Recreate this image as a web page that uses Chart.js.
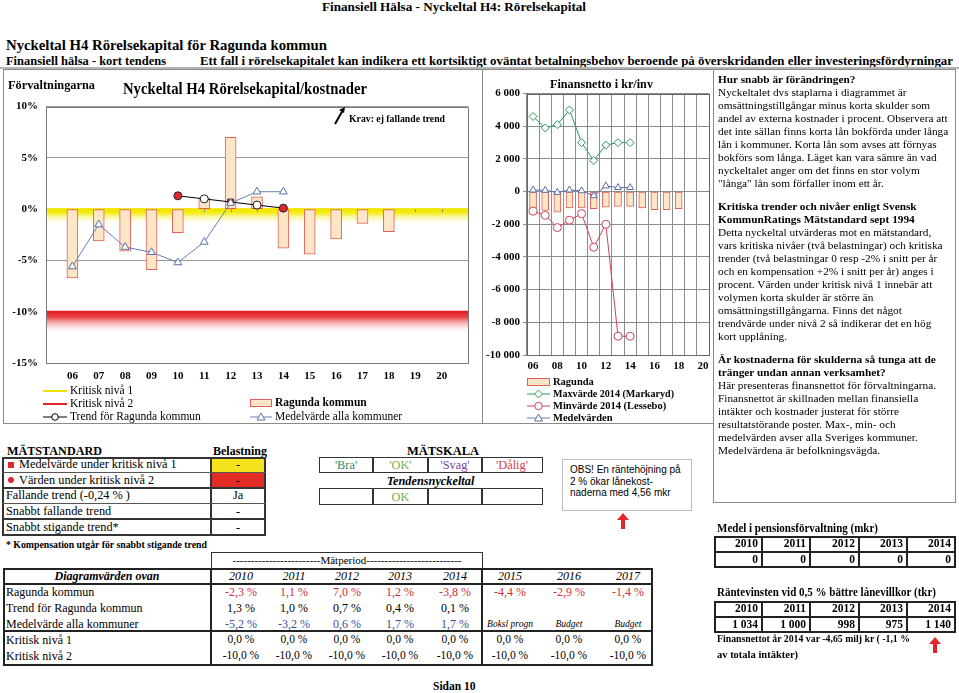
<!DOCTYPE html>
<html lang="sv"><head><meta charset="utf-8"><title>Nyckeltal H4</title>
<script src="https://cdn.jsdelivr.net/npm/chart.js@4.4.1/dist/chart.umd.min.js"></script>
<style>
html,body{margin:0;padding:0;background:#fff;}
#page{position:relative;width:959px;height:693px;overflow:hidden;font-family:"Liberation Serif","Times New Roman",serif;color:#000;}
.t{position:absolute;white-space:nowrap;}
.r{position:absolute;box-sizing:border-box;}
canvas{position:absolute;}
svg{position:absolute;overflow:visible;}
</style></head><body><div id="page">
<canvas id="c1" width="475" height="291" style="left:4px;top:92px;width:475px;height:291px"></canvas>
<canvas id="c2" width="231" height="291" style="left:484px;top:84px;width:231px;height:291px"></canvas>
</div>
<script>
// ---------------- DATA ----------------
const yearLabels = ['06','07','08','09','10','11','12','13','14','15','16','17','18','19','20'];
const ragundaH4  = [-6.7,-3.1,-4.1,-5.9,-2.3,1.1,7.0,1.2,-3.8,-4.4,-2.9,-1.4,-2.2,null,null];
const medelH4    = [-5.6,-1.5,-3.7,-4.2,-5.2,-3.2,0.6,1.7,1.7,null,null,null,null,null,null];
const trendH4    = [null,null,null,null,1.3,1.0,0.7,0.4,0.1,null,null,null,null,null,null];
const kritiskNiva1 = 0;
const kritiskNiva2 = -10;

const finRagunda = [-1050,-1150,-1250,-1000,-1000,-1050,-950,-900,-900,-1000,-1100,-1100,-1050,null,null];
const finMax     = [4600,3900,4100,5000,3000,1900,2850,3000,3000,null,null,null,null,null,null];
const finMin     = [-1200,-1450,-2200,-1750,-1350,-3400,-2000,-8850,-8850,null,null,null,null,null,null];
const finMedel   = [100,80,-50,100,50,-250,350,250,250,null,null,null,null,null,null];

const tableYears   = ['2010','2011','2012','2013','2014','2015','2016','2017'];
const tblRagunda   = [-2.3,1.1,7.0,1.2,-3.8,-4.4,-2.9,-1.4];
const tblTrend     = [1.3,1.0,0.7,0.4,0.1];
const tblMedel     = [-5.2,-3.2,0.6,1.7,1.7];
const tblKritisk1  = [0,0,0,0,0,0,0,0];
const tblKritisk2  = [-10,-10,-10,-10,-10,-10,-10,-10];
const tblNotes     = ['Boksl progn','Budget','Budget'];

const pensionYears  = ['2010','2011','2012','2013','2014'];
const pensionValues = [0,0,0,0,0];
const rantevinst    = [1034,1000,998,975,1140];

// ---------------- STYLES (not data) ----------------
const trendPointStyle = [null,null,null,null,'circle','circle','rect','circle','circle',null,null,null,null,null,null];
const trendPointColor = [null,null,null,null,'#e3262b','#ffffff','#c4202a','#ffffff','#e3262b',null,null,null,null,null,null];

// ---------------- HELPERS ----------------
const page = document.getElementById('page');
function txt(x, cy, s, o = {}) {
  const d = document.createElement('div');
  d.className = 't';
  d.textContent = s;
  const fs = o.fs || 12, lh = fs + 2;
  d.style.fontSize = fs + 'px';
  d.style.lineHeight = lh + 'px';
  d.style.top = (cy - lh / 2) + 'px';
  if (o.align === 'center') { d.style.left = (x - 200) + 'px'; d.style.width = '400px'; d.style.textAlign = 'center'; }
  else if (o.align === 'right') { d.style.left = (x - 400) + 'px'; d.style.width = '400px'; d.style.textAlign = 'right'; }
  else d.style.left = x + 'px';
  if (o.b) d.style.fontWeight = 'bold';
  if (o.i) d.style.fontStyle = 'italic';
  if (o.c) d.style.color = o.c;
  if (o.f) d.style.fontFamily = o.f;
  page.appendChild(d);
  if (o.w) {
    const w = d.getBoundingClientRect().width;
    d.style.transformOrigin = '0 50%';
    d.style.transform = 'scaleX(' + (o.w / w) + ')';
  }
  return d;
}
function rect(x, y, w, h, css) {
  const d = document.createElement('div');
  d.className = 'r';
  d.style.left = x + 'px'; d.style.top = y + 'px';
  d.style.width = w + 'px'; d.style.height = h + 'px';
  d.style.cssText += css || '';
  page.appendChild(d);
  return d;
}
function hl(x1, x2, y, t, c) { return rect(x1, y - t / 2, x2 - x1, t, 'background:' + (c || '#222')); }
function vl(x, y1, y2, t, c) { return rect(x - t / 2, y1, t, y2 - y1, 'background:' + (c || '#222')); }
function svg(html, x, y, w, h) {
  const ns = 'http://www.w3.org/2000/svg';
  const s = document.createElementNS(ns, 'svg');
  s.setAttribute('width', w); s.setAttribute('height', h);
  s.style.left = x + 'px'; s.style.top = y + 'px';
  s.innerHTML = html;
  page.appendChild(s);
}
const pct = v => v.toFixed(1).replace('.', ',') + ' %';
const sp = v => { const a = Math.abs(v).toString().replace(/\B(?=(\d{3})+(?!\d))/g, ' '); return (v < 0 ? '-' : '') + a; };

// ---------------- HEADER ----------------
txt(322, 6, 'Finansiell Hälsa - Nyckeltal H4: Rörelsekapital', {fs: 13, b: true, w: 264});
txt(6, 45, 'Nyckeltal H4 Rörelsekapital för Ragunda kommun', {fs: 15, b: true, w: 321});
txt(6, 61, 'Finansiell hälsa - kort tendens', {fs: 12, b: true, w: 160});
txt(200, 61, 'Ett fall i rörelsekapitalet kan indikera ett kortsiktigt oväntat betalningsbehov beroende på överskridanden eller investeringsfördyrningar', {fs: 12, b: true, w: 753});
hl(0, 959, 68, 2, '#b4b4b4');

// panel boxes
rect(3, 69, 480, 355, 'border:1px solid #8a8a8a');
rect(482, 69, 232, 355, 'border:1px solid #8a8a8a');
rect(713, 69, 243, 434, 'border:1px solid #8a8a8a');

// ---------------- LEFT CHART TEXT ----------------
txt(8, 84, 'Förvaltningarna', {fs: 13, b: true, w: 87});
txt(123, 88, 'Nyckeltal H4 Rörelsekapital/kostnader', {fs: 17, b: true, w: 244});
txt(349, 118, 'Krav: ej fallande trend', {fs: 11, b: true, w: 96});
svg('<line x1="1" y1="17" x2="9" y2="3" stroke="#000" stroke-width="2"/><polygon points="11,0 5,3 10,6" fill="#000"/>', 334, 107, 14, 20);

// left legend
hl(43, 67, 391, 2.5, '#f0e200');
txt(70, 391, 'Kritisk nivå 1', {fs: 11.5});
hl(43, 67, 404, 2.5, '#e3262b');
txt(70, 404, 'Kritisk nivå 2', {fs: 11.5});
svg('<line x1="0" y1="5" x2="24" y2="5" stroke="#000" stroke-width="1"/><circle cx="12" cy="5" r="3.3" fill="#fff" stroke="#000"/>', 43, 412, 24, 10);
txt(70, 417, 'Trend för Ragunda kommun', {fs: 11.5});
rect(250, 399, 22, 8, 'background:#fde6c8;border:1px solid #e0605a');
txt(275, 403, 'Ragunda kommun', {fs: 11.5, b: true});
svg('<line x1="0" y1="5" x2="22" y2="5" stroke="#6a7fb5" stroke-width="1"/><polygon points="11,1 15,8 7,8" fill="#fff" stroke="#5a6fa8"/>', 250, 412, 22, 10);
txt(275, 417, 'Medelvärde alla kommuner', {fs: 11.5});

// ---------------- MIDDLE CHART TEXT ----------------
txt(550, 83, 'Finansnetto i kr/inv', {fs: 13, b: true, w: 103});
rect(527, 378, 23, 8, 'background:#fde6c8;border:1px solid #e0605a');
txt(553, 382, 'Ragunda', {fs: 10.5, b: true});
svg('<line x1="0" y1="5" x2="23" y2="5" stroke="#2e9a5e"/><polygon points="11.5,1 15.5,5 11.5,9 7.5,5" fill="#fff" stroke="#2e9a5e"/>', 527, 389, 23, 10);
txt(553, 394, 'Maxvärde 2014  (Markaryd)', {fs: 10.5, b: true, w: 121});
svg('<line x1="0" y1="5" x2="23" y2="5" stroke="#cc4455"/><circle cx="11.5" cy="5" r="3.7" fill="#fff" stroke="#cc4455"/>', 527, 401, 23, 10);
txt(553, 406, 'Minvärde 2014 (Lessebo)', {fs: 10.5, b: true});
svg('<line x1="0" y1="5" x2="23" y2="5" stroke="#6a7fb5"/><polygon points="11.5,1 15.5,8 7.5,8" fill="#fff" stroke="#5a6fa8"/>', 527, 413, 23, 10);
txt(553, 418, 'Medelvärden', {fs: 10.5, b: true});

// ---------------- RIGHT TEXT PANEL ----------------
const sections = [
  {y: 80, lines: [
    ['Hur snabb är förändringen?', true],
    ['Nyckeltalet dvs staplarna i diagrammet är'],
    ['omsättningstillgångar minus korta skulder som'],
    ['andel av externa kostnader i procent. Observera att'],
    ['det inte sällan finns korta lån bokförda under långa'],
    ['lån i kommuner. Korta lån som avses att förnyas'],
    ['bokförs som långa. Läget kan vara sämre än vad'],
    ['nyckeltalet anger om det finns en stor volym'],
    ['"långa" lån som förfaller inom ett år.']]},
  {y: 207, lines: [
    ['Kritiska trender och nivåer enligt Svensk', true],
    ['KommunRatings Mätstandard sept 1994', true],
    ['Detta nyckeltal utvärderas mot en mätstandard,'],
    ['vars kritiska nivåer (två belastningar) och kritiska'],
    ['trender (två belastningar 0 resp -2% i snitt per år'],
    ['och en kompensation +2% i snitt per år) anges i'],
    ['procent. Värden under kritisk nivå 1 innebär att'],
    ['volymen korta skulder är större än'],
    ['omsättningstillgångarna. Finns det något'],
    ['trendvärde under nivå 2 så indikerar det en hög'],
    ['kort upplåning.']]},
  {y: 360, lines: [
    ['Är kostnaderna för skulderna så tunga att de', true],
    ['tränger undan annan verksamhet?', true],
    ['Här presenteras finansnettot för förvaltningarna.'],
    ['Finansnettot är skillnaden mellan finansiella'],
    ['intäkter och kostnader justerat för större'],
    ['resultatstörande poster. Max-, min- och'],
    ['medelvärden avser alla Sveriges kommuner.'],
    ['Medelvärdena är befolkningsvägda.']]}
];
sections.forEach(s => s.lines.forEach((l, i) => txt(718, s.y + i * 13, l[0], {fs: 11.3, b: !!l[1]})));

// ---------------- MÄTSTANDARD ----------------
txt(7, 451, 'MÄTSTANDARD', {fs: 12.5, b: true, w: 95});
txt(213, 451, 'Belastning', {fs: 12.5, b: true, w: 54});
rect(212, 458, 53, 14, 'background:#f4e31c');
rect(212, 473, 53, 15, 'background:#e42c26');
rect(2, 457, 264, 79, 'border:2px solid #333');
vl(211, 457, 536, 2, '#333');
[472, 503].forEach(y => hl(2, 266, y, 1, '#555'));
[488, 519].forEach(y => hl(2, 266, y, 2, '#333'));
const stdRows = [
  ['Medelvärde under kritisk nivå 1', '-', 19],
  ['Värden under kritisk nivå 2', '-', 19],
  ['Fallande trend (-0,24 % )', 'Ja', 6],
  ['Snabbt fallande trend', '-', 6],
  ['Snabbt stigande trend*', '-', 6]];
const stdY = [464.5, 480, 495.5, 511, 527];
stdRows.forEach((r, i) => { txt(r[2], stdY[i], r[0], {fs: 12.3}); txt(238, stdY[i], r[1], {fs: 12.3, align: 'center'}); });
rect(8, 462, 6, 6, 'background:#e3262b');
rect(8, 477, 6, 6, 'background:#e3262b;border-radius:3px');
txt(6, 545, '* Kompensation utgår för snabbt stigande trend', {fs: 10.5, b: true, w: 201});

// ---------------- MÄTSKALA ----------------
txt(443, 451, 'MÄTSKALA', {fs: 12.5, b: true, align: 'center'});
rect(319, 457, 224, 16, 'border:1.5px solid #333');
rect(319, 488, 224, 17, 'border:1.5px solid #333');
[373, 428, 482].forEach(x => { vl(x, 457, 473, 1.5, '#333'); vl(x, 488, 505, 1.5, '#333'); });
const scale = [['\'Bra\'', '#2f8a6a', 346], ['\'OK\'', '#6cb15a', 400.5], ['\'Svag\'', '#7b3f9b', 455], ['\'Dålig\'', '#d0404a', 512]];
scale.forEach(s => txt(s[2], 465, s[0], {fs: 12.3, c: s[1], align: 'center'}));
txt(430.5, 481, 'Tendensnyckeltal', {fs: 12.3, b: true, i: true, align: 'center'});
txt(400.5, 497, 'OK', {fs: 12.3, c: '#6cb15a', align: 'center'});

// OBS box
rect(562, 459, 130, 52, 'border:1px solid #bdbdbd');
['OBS! En räntehöjning på', '2 % ökar lånekost-', 'naderna med 4,56 mkr'].forEach((l, i) =>
  txt(570, 470 + i * 11.5, l, {fs: 10, f: '"Liberation Sans",Arial,sans-serif'}));
const redArrow = '<polygon points="6,0 12,7 8,7 8,16 4,16 4,7 0,7" fill="#e3262b"/>';
svg(redArrow, 617, 513, 12, 16);
svg(redArrow, 929, 637, 12, 18);

// ---------------- BOTTOM TABLE ----------------
rect(211, 552, 272, 17, 'border:1.5px solid #333;border-bottom:none');
txt(347, 560, '------------------------Mätperiod--------------------------', {fs: 11, align: 'center'});
rect(3, 568, 650, 98, 'border:2px solid #222');
vl(211, 568, 666, 1.5, '#222');
vl(482, 568, 666, 1.5, '#222');
hl(3, 653, 584, 2, '#222');
hl(3, 653, 631, 2, '#222');
const colX = [241, 294, 347, 400, 455, 510, 569, 628];
txt(107, 576, 'Diagramvärden ovan', {fs: 12, b: true, i: true, align: 'center'});
tableYears.forEach((y, i) => txt(colX[i], 576, y, {fs: 12, i: true, align: 'center'}));
const rowY = [592, 608, 623.5, 640, 656];
const rowLabels = ['Ragunda kommun', 'Trend för Ragunda kommun', 'Medelvärde alla kommuner', 'Kritisk nivå 1', 'Kritisk nivå 2'];
rowLabels.forEach((l, i) => txt(6, rowY[i], l, {fs: 12}));
tblRagunda.forEach((v, i) => txt(colX[i], rowY[0], pct(v), {fs: 12, c: '#c8323a', align: 'center'}));
tblTrend.forEach((v, i) => txt(colX[i], rowY[1], pct(v), {fs: 12, align: 'center'}));
tblMedel.forEach((v, i) => txt(colX[i], rowY[2], pct(v), {fs: 12, c: '#3d4f92', align: 'center'}));
tblNotes.forEach((v, i) => txt(colX[5 + i], rowY[2] + 1, v, {fs: 9.5, i: true, align: 'center'}));
tblKritisk1.forEach((v, i) => txt(colX[i], rowY[3], pct(v), {fs: 11.5, align: 'center'}));
tblKritisk2.forEach((v, i) => txt(colX[i], rowY[4], pct(v), {fs: 11.5, align: 'center'}));

// ---------------- RIGHT BOTTOM TABLES ----------------
const rColsR = [761, 809, 858, 906, 954];
function smallTable(top, years, vals) {
  rect(714, top, 242, 32, 'border:2px solid #222');
  hl(714, 956, top + 16, 2, '#222');
  [762, 810, 859, 907].forEach(x => vl(x, top, top + 32, 2, '#222'));
  years.forEach((y, i) => txt(rColsR[i] - 3, top + 8, y, {fs: 11.5, b: true, align: 'right'}));
  vals.forEach((v, i) => txt(rColsR[i] - 3, top + 24, sp(v), {fs: 11.5, b: true, align: 'right'}));
}
txt(717, 528, 'Medel i pensionsförvaltning (mkr)', {fs: 12, b: true, w: 161});
smallTable(536, pensionYears, pensionValues);
txt(717, 592, 'Räntevinsten vid 0,5 % bättre lånevillkor (tkr)', {fs: 12, b: true, w: 219});
smallTable(601, pensionYears, rantevinst);
txt(717, 639, 'Finansnettot år 2014 var -4,65 milj kr ( -1,1 %', {fs: 10.5, b: true, w: 193});
txt(717, 655, 'av totala intäkter)', {fs: 10.5, b: true});

txt(433, 687, 'Sidan 10', {fs: 11.5, b: true});

// ---------------- CHARTS ----------------
Chart.defaults.font.family = '"Liberation Serif","Times New Roman",serif';
Chart.defaults.color = '#000';
const pad = a => [null, ...a, null];
const tickFont = {size: 11, weight: 'bold'};

const h4Plugin = {
  id: 'h4bands',
  beforeDatasetsDraw(chart) {
    const {ctx, chartArea: a, scales: {x, y}} = chart;
    ctx.save();
    const y0 = y.getPixelForValue(kritiskNiva1);
    let g = ctx.createLinearGradient(0, y0, 0, y0 + 16);
    g.addColorStop(0, 'rgba(240,228,0,1)');
    g.addColorStop(0.2, 'rgba(244,234,0,0.95)');
    g.addColorStop(1, 'rgba(255,255,255,0)');
    ctx.fillStyle = g;
    ctx.fillRect(a.left, y0 - 1, a.right - a.left, 17);
    const y2 = y.getPixelForValue(kritiskNiva2);
    g = ctx.createLinearGradient(0, y2, 0, y2 + 22);
    g.addColorStop(0, 'rgba(228,30,36,1)');
    g.addColorStop(0.25, 'rgba(232,50,50,0.9)');
    g.addColorStop(1, 'rgba(255,255,255,0)');
    ctx.fillStyle = g;
    ctx.fillRect(a.left, y2 - 1, a.right - a.left, 23);
    ctx.strokeStyle = '#8a8a8a';
    ctx.lineWidth = 1;
    for (let i = 1; i <= yearLabels.length; i++) {
      const px = Math.round(x.getPixelForValue(i)) + 0.5;
      ctx.beginPath(); ctx.moveTo(px, y0); ctx.lineTo(px, y0 + 3); ctx.stroke();
    }
    ctx.strokeStyle = '#7a7a7a';
    ctx.strokeRect(Math.round(a.left) + 0.5, Math.round(a.top) + 0.5, Math.round(a.right - a.left), Math.round(a.bottom - a.top));
    ctx.restore();
  }
};

new Chart(document.getElementById('c1'), {
  type: 'bar',
  data: {
    labels: ['', ...yearLabels, ''],
    datasets: [
      {type: 'line', label: 'Medelvärde alla kommuner', data: pad(medelH4), borderColor: '#6a7fb5', borderWidth: 1,
       pointStyle: 'triangle', pointRadius: 4.5, pointBackgroundColor: '#fff', pointBorderColor: '#5a6fa8', pointBorderWidth: 1, order: 1},
      {type: 'line', label: 'Trend för Ragunda kommun', data: pad(trendH4), borderColor: '#000', borderWidth: 1,
       pointStyle: pad(trendPointStyle), pointRadius: 4, pointBackgroundColor: pad(trendPointColor), pointBorderColor: '#222', pointBorderWidth: 1, order: 2},
      {type: 'bar', label: 'Ragunda kommun', data: pad(ragundaH4), backgroundColor: '#fde6c8', borderColor: '#e0605a', borderWidth: 1,
       borderSkipped: false, barThickness: 11, order: 3}
    ]
  },
  options: {
    responsive: false, animation: false, devicePixelRatio: 1,
    layout: {padding: {top: 7, right: 11, left: 0, bottom: 0}},
    plugins: {legend: {display: false}, tooltip: {enabled: false}},
    scales: {
      x: {offset: false, grid: {display: false, drawTicks: false}, border: {display: false},
          ticks: {font: tickFont, color: '#000', padding: 7, autoSkip: false, maxRotation: 0},
          afterFit(s) { s.height = 20; }},
      y: {min: -15, max: 10, grid: {color: '#9a9a9a', drawTicks: false}, border: {display: false},
          ticks: {stepSize: 5, callback: v => v + '%', font: tickFont, color: '#000', padding: 8},
          afterFit(s) { s.width = 42; }}
    }
  },
  plugins: [h4Plugin]
});

const finBorder = {
  id: 'finBorder',
  afterDatasetsDraw(chart) {
    const {ctx, chartArea: a} = chart;
    ctx.save();
    ctx.strokeStyle = '#666'; ctx.lineWidth = 1;
    ctx.strokeRect(Math.round(a.left) + 0.5, Math.round(a.top) + 0.5, Math.round(a.right - a.left), Math.round(a.bottom - a.top));
    ctx.restore();
  }
};

new Chart(document.getElementById('c2'), {
  type: 'bar',
  data: {
    labels: yearLabels,
    datasets: [
      {type: 'line', label: 'Maxvärde 2014 (Markaryd)', data: finMax, borderColor: '#2e9a5e', borderWidth: 1,
       pointStyle: 'rectRot', pointRadius: 4, pointBackgroundColor: '#fff', pointBorderColor: '#2e9a5e', order: 1},
      {type: 'line', label: 'Minvärde 2014 (Lessebo)', data: finMin, borderColor: '#cc4455', borderWidth: 1,
       pointStyle: 'circle', pointRadius: 4, pointBackgroundColor: '#fff', pointBorderColor: '#cc4455', order: 2},
      {type: 'line', label: 'Medelvärden', data: finMedel, borderColor: '#5a6fa8', borderWidth: 1,
       pointStyle: 'triangle', pointRadius: 4, pointBackgroundColor: '#fff', pointBorderColor: '#5a6fa8', order: 3},
      {type: 'bar', label: 'Ragunda', data: finRagunda, backgroundColor: '#fde6c8', borderColor: '#e0605a', borderWidth: 1,
       borderSkipped: false, barThickness: 7, order: 4}
    ]
  },
  options: {
    responsive: false, animation: false, devicePixelRatio: 1,
    layout: {padding: {top: 7, right: 6, left: 0, bottom: 0}},
    plugins: {legend: {display: false}, tooltip: {enabled: false}},
    scales: {
      x: {offset: true, grid: {color: '#8c8c8c', offset: true, drawTicks: false}, border: {color: '#666'},
          ticks: {font: tickFont, color: '#000', padding: 5, autoSkip: false, maxRotation: 0,
                  callback: (v, i) => (i % 2 === 0 ? yearLabels[i] : '')},
          afterFit(s) { s.height = 20; }},
      y: {min: -10000, max: 6000, grid: {color: '#8c8c8c', tickLength: 4}, border: {color: '#666'},
          ticks: {stepSize: 2000, callback: v => sp(v), font: tickFont, color: '#000', padding: 3},
          afterFit(s) { s.width = 43; }}
    }
  },
  plugins: [finBorder]
});
</script>
</body></html>
